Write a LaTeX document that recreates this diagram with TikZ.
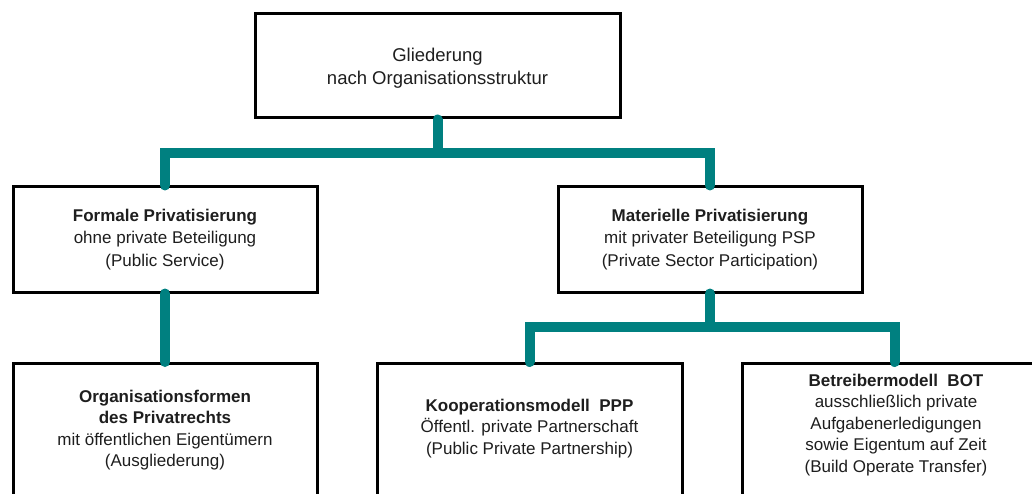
\documentclass[tikz,border=0pt]{standalone}
\usepackage{fontspec}
\setmainfont{Liberation Sans}
\definecolor{conncol}{RGB}{0,128,128}
\definecolor{txtcol}{RGB}{30,30,30}
\begin{document}
\begin{tikzpicture}[x=1pt,y=-1pt]
\useasboundingbox (0,0) rectangle (1032,494);
\clip (0,0) rectangle (1032,494);
\tikzset{
  box/.style={draw=black,line width=3pt,fill=white,rectangle,inner sep=0pt,align=center,text=txtcol,font=\fontsize{17}{22.5}\selectfont},
  txt/.style={align=center,inner sep=0pt,text=txtcol,font=\fontsize{17}{21.5}\selectfont},
  conn/.style={draw=conncol,line width=10pt,line cap=round}
}
\node[box,minimum width=365pt,minimum height=104pt] (top) at (437.5,66) {};
\node[txt,font=\fontsize{18.5}{23}\selectfont] (topt) at (437.5,68) {Gliederung\\nach Organisationsstruktur};
\node[box,minimum width=304pt,minimum height=105pt] (fp) at (165,239.5) {\textbf{Formale Privatisierung}\\ohne private Beteiligung\\(Public Service)};
\node[box,minimum width=304pt,minimum height=105pt] (mp) at (710,239.5) {\textbf{Materielle Privatisierung}\\mit privater Beteiligung PSP\\(Private Sector Participation)};
\node[box,minimum width=304pt,minimum height=200pt,anchor=north] (ob) at (165,362) {};
\node[box,minimum width=305pt,minimum height=200pt,anchor=north] (kb) at (529.5,362) {};
\node[box,minimum width=305pt,minimum height=200pt,anchor=north] (bb) at (894.5,362) {};
\node[txt] (obt) at (165,430) {\textbf{Organisationsformen}\\\textbf{des Privatrechts}\\mit öffentlichen Eigentümern\\(Ausgliederung)};
\node[txt] (kbt) at (529.5,428.5) {\textbf{Kooperationsmodell\ \ PPP}\\Öffentl. private Partnerschaft\\(Public Private Partnership)};
\node[txt] (bbt) at (896,425) {\textbf{Betreibermodell\ \ BOT}\\ausschließlich private\\Aufgabenerledigungen\\sowie Eigentum auf Zeit\\(Build Operate Transfer)};
\coordinate (b1) at (438,153);
\coordinate (b2) at (710,327);
\draw[conn] (top.south) -- (top.south |- b1);
\draw[conn] (fp.north) |- (b1) -| (mp.north);
\draw[conn] (fp.south) -- (ob.north);
\draw[conn] (mp.south) -- (mp.south |- b2);
\draw[conn] (kb.north) |- (b2) -| (bb.north);
\end{tikzpicture}
\end{document}
